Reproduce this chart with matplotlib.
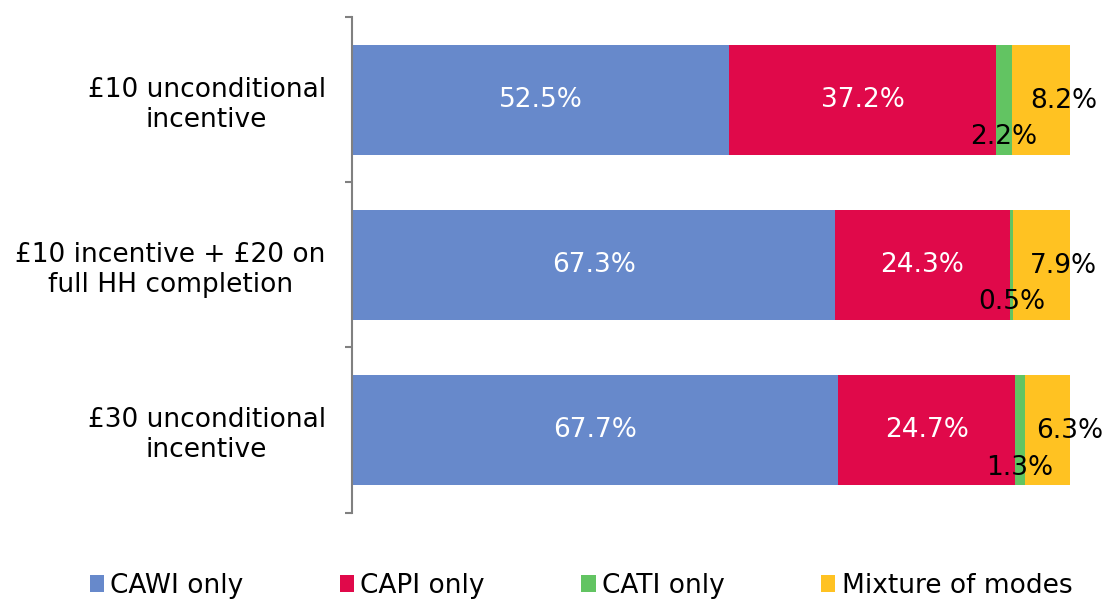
import matplotlib.pyplot as plt
import numpy as np

plt.rcParams['font.family'] = ['DejaVu Sans']

categories = ['£10 unconditional\nincentive',
              '£10 incentive + £20 on\nfull HH completion',
              '£30 unconditional\nincentive']
series = ['CAWI only', 'CAPI only', 'CATI only', 'Mixture of modes']
cawi = [52.5, 67.3, 67.7]
capi = [37.2, 24.3, 24.7]
cati = [2.2, 0.5, 1.3]
mixture = [8.2, 7.9, 6.3]
colors = ['#6789CB', '#E0094A', '#62C462', '#FFC222']

fs = 19
fig = plt.figure(figsize=(11.14, 5.99), dpi=100)
ax = fig.add_axes([0.316, 0.1444, 0.6445, 0.8264])

y = np.arange(len(categories))
left = np.zeros(len(categories))
values = [cawi, capi, cati, mixture]
for name, vals, c in zip(series, values, colors):
    vals = np.array(vals)
    ax.barh(y, vals, left=left, height=0.667, color=c, label=name)
    for i in range(len(y)):
        cx = left[i] + vals[i] / 2
        txt = f'{vals[i]:.1f}%'
        if name in ('CAWI only', 'CAPI only'):
            ax.text(cx, y[i], txt, ha='center', va='center', color='white', fontsize=fs)
        elif name == 'CATI only':
            ax.annotate(txt, (cx, y[i]), xytext=(0, -27), textcoords='offset points',
                        ha='center', va='center', color='black', fontsize=fs)
        else:
            ax.annotate(txt, (cx, y[i]), xytext=(16, -1), textcoords='offset points',
                        ha='center', va='center', color='black', fontsize=fs)
    left = left + vals

ax.set_xlim(0, 100)
ax.set_ylim(2.5, -0.5)
ax.set_yticks(y)
ax.set_yticklabels(categories, fontsize=fs, multialignment='center')
ax.tick_params(axis='y', which='major', length=0, pad=19)
ax.set_yticks([-0.5, 0.5, 1.5, 2.5], minor=True)
ax.tick_params(axis='y', which='minor', length=5, width=1.5, color='#808080')
ax.set_xticks([])
for s in ['top', 'right', 'bottom']:
    ax.spines[s].set_visible(False)
ax.spines['left'].set_color('#808080')
ax.spines['left'].set_linewidth(1.5)

fig.legend(loc='center', bbox_to_anchor=(0.5215, 0.022), ncol=4, fontsize=fs,
           frameon=False, handlelength=0.55, handleheight=0.6, handletextpad=0.23,
           columnspacing=3.65)

fig.savefig('out.png', dpi=100)
